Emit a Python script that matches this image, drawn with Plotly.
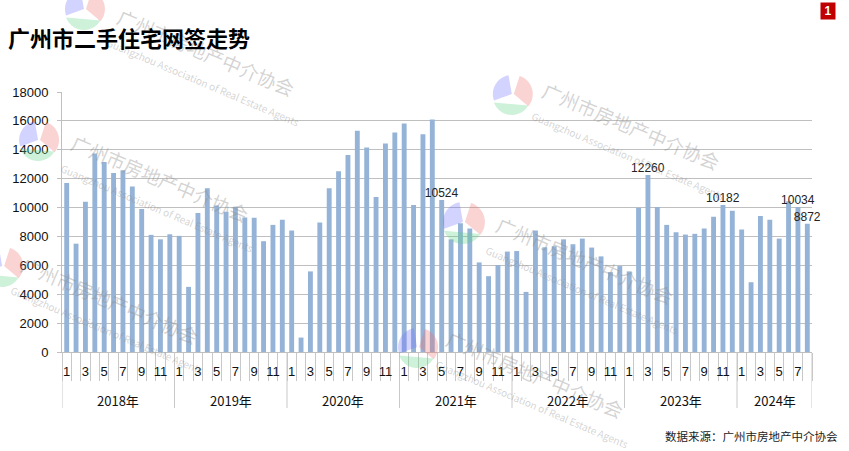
import numpy as np
import plotly.graph_objects as go

# ---------------- data ----------------
years = ["2018年", "2019年", "2020年", "2021年", "2022年", "2023年", "2024年"]
v2018 = [11700, 7500, 10400, 13750, 13150, 12400, 12590, 11450, 9900, 8110, 7800, 8150]
v2019 = [8040, 4510, 9620, 11340, 10150, 9710, 10060, 9310, 9290, 7670, 8800, 9150]
v2020 = [8410, 1000, 5580, 8970, 11340, 12520, 13640, 15310, 14150, 10730, 14430, 15190]
v2021 = [15820, 10180, 15080, 16100, 10524, 7800, 8920, 8550, 6200, 5250, 6020, 6950]
v2022 = [6990, 4160, 8410, 7250, 7320, 7800, 7460, 7850, 7230, 6620, 5530, 5950]
v2023 = [5580, 9990, 12260, 10040, 8800, 8290, 8130, 8180, 8550, 9360, 10182, 9780]
v2024 = [8480, 4830, 9410, 9150, 7850, 10430, 10034, 8872]
series = [v2018, v2019, v2020, v2021, v2022, v2023, v2024]
labelled = {("2021年", 5), ("2023年", 3), ("2023年", 11), ("2024年", 7), ("2024年", 8)}
month_ticks = ["1", "3", "5", "7", "9", "11"]

# ---------------- build ----------------
values, month_of, year_of = [], [], []
for y, vals in zip(years, series):
    for m, v in enumerate(vals, start=1):
        values.append(v)
        month_of.append(m)
        year_of.append(y)
n = len(values)
xs = list(range(n))
texts = [str(v) if (year_of[i], month_of[i]) in labelled else "" for i, v in enumerate(values)]
tickvals = [i for i in xs if str(month_of[i]) in month_ticks]
ticktext = [str(month_of[i]) for i in tickvals]

fig = go.Figure()
fig.add_trace(go.Bar(
    x=xs, y=values, marker=dict(color="#95b3d7", line=dict(width=0)),
    text=texts, textposition="outside", constraintext="none", cliponaxis=False,
    textfont=dict(family="Liberation Sans", size=12, color="#222222"),
    hoverinfo="y",
))

L, R, T, B = 60, 37, 92, 99
W, H = 849, 451
pw, ph = W - L - R, H - T - B


def px(xp):
    return (xp - L) / pw


def py(yp):
    return (H - B - yp) / ph


shapes = []
annotations = []

# year separators and group labels
bounds = [-0.5]
start = 0
for y, vals in zip(years, series):
    end = start + len(vals)
    bounds.append(end - 0.5)
    annotations.append(dict(x=(start + end - 1) / 2, y=py(400), xref="x", yref="paper",
                            text=y, showarrow=False, xanchor="center", yanchor="middle",
                            font=dict(family="Noto Sans CJK SC", size=13, color="#111111")))
    start = end
for b in bounds:
    shapes.append(dict(type="line", xref="x", yref="paper", x0=b, x1=b, y0=0, y1=py(408),
                       line=dict(color="#c8c8c8", width=1)))

# watermarks (decoration)
wm_text = ("广州市房地产中介协会<br><span style='font-size:10px'>"
           "Guangzhou Association of Real Estate Agents</span>")
for cx, cy in [(208, 66), (162, 192), (112, 314), (635, 140), (588, 274), (538, 388)]:
    annotations.append(dict(x=px(cx), y=py(cy), xref="paper", yref="paper", text=wm_text,
                            showarrow=False, textangle=23, align="left",
                            xanchor="center", yanchor="middle",
                            font=dict(family="Noto Sans CJK SC", size=19, color="rgba(140,140,140,0.38)")))


def sector(cx, cy, r, a0, a1, color, center=True):
    ang = np.radians(np.linspace(a0, a1, 24))
    ptsx = cx + r * np.cos(ang)
    ptsy = cy - r * np.sin(ang)
    if center:
        path = f"M {px(cx)},{py(cy)} "
        path += " ".join(f"L {px(a)},{py(b)}" for a, b in zip(ptsx, ptsy))
    else:
        path = f"M {px(ptsx[0])},{py(ptsy[0])} " + " ".join(
            f"L {px(a)},{py(b)}" for a, b in zip(ptsx[1:], ptsy[1:]))
    path += " Z"
    return dict(type="path", xref="paper", yref="paper", path=path,
                fillcolor=color, line=dict(width=0), layer="above")


for cx, cy, r in [(82, 9, 19), (36, 140, 19), (0, 266, 19), (511, 94, 19), (462, 222, 20), (416, 347, 19)]:
    shapes.append(sector(cx, cy, r, 100, 200, "rgba(110,110,255,0.30)"))
    shapes.append(sector(cx + 2, cy, r, -40, 72, "rgba(240,110,110,0.30)"))
    shapes.append(sector(cx, cy + 2, r, 200, 330, "rgba(90,210,130,0.30)", center=False))

# title, badge, source
annotations.append(dict(x=px(4), y=py(37), xref="paper", yref="paper", text="<b>广州市二手住宅网签走势</b>",
                        showarrow=False, xanchor="left", yanchor="middle",
                        font=dict(family="Noto Sans CJK SC", size=22, color="#000000")))
annotations.append(dict(x=px(828), y=py(11), xref="paper", yref="paper", text="<b>1</b>",
                        showarrow=False, bgcolor="#c00000", width=14, height=16, borderpad=0,
                        xanchor="center", yanchor="middle",
                        font=dict(family="Liberation Sans", size=12, color="#ffffff")))
annotations.append(dict(x=px(840), y=py(436), xref="paper", yref="paper", text="数据来源：广州市房地产中介协会",
                        showarrow=False, xanchor="right", yanchor="middle",
                        font=dict(family="Noto Sans CJK SC", size=11.5, color="#222222")))

fig.update_layout(
    width=W, height=H, margin=dict(l=L, r=R, t=T, b=B),
    paper_bgcolor="white", plot_bgcolor="white",
    showlegend=False, bargap=0.48,
    shapes=shapes, annotations=annotations,
    xaxis=dict(range=[-0.5, n - 0.5], tickmode="array", tickvals=tickvals, ticktext=ticktext,
               ticks="outside", ticklen=7, tickcolor="rgba(0,0,0,0)",
               tickfont=dict(family="Liberation Sans", size=13, color="#111111"),
               showgrid=False, zeroline=False, showline=True, linecolor="#bfbfbf", linewidth=1,
               minor=dict(tickmode="array", tickvals=[float(b) for b in np.arange(-0.5, n, 1.0)],
                          ticks="outside", ticklen=28, tickcolor="#c8c8c8", tickwidth=1, showgrid=False)),
    yaxis=dict(range=[0, 18000], tickmode="linear", tick0=0, dtick=2000, tickformat="d",
               showgrid=True, gridcolor="#bfbfbf", gridwidth=1, zeroline=False,
               showline=True, linecolor="#bfbfbf", ticks="outside", ticklen=4, tickcolor="#bfbfbf",
               ticklabelstandoff=6,
               tickfont=dict(family="Liberation Sans", size=13, color="#111111")),
)

fig.write_html("out.html", config={"displayModeBar": False},
               post_script="document.body.style.margin='0';document.body.style.overflow='hidden';")
